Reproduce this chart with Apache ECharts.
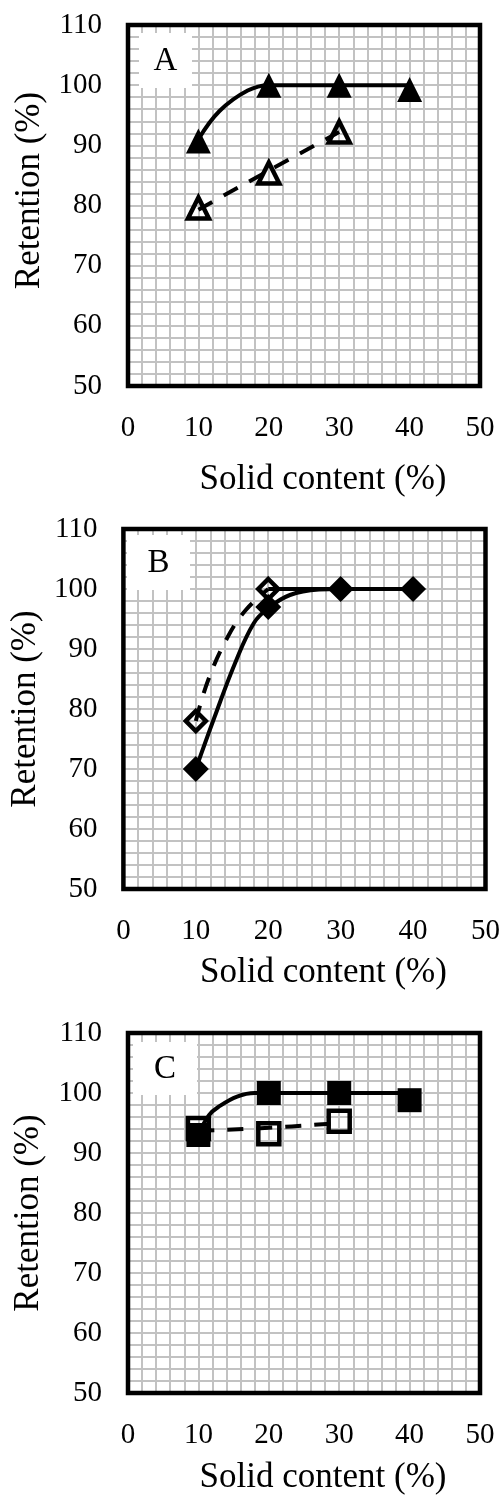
<!DOCTYPE html>
<html>
<head>
<meta charset="utf-8">
<script src="https://cdn.jsdelivr.net/npm/echarts@6/dist/echarts.min.js"></script>
<style>
  html, body { margin: 0; padding: 0; background: #ffffff; }
  #chart { width: 503px; height: 1499px; }
</style>
</head>
<body>
<div id="chart"></div>
<script>
// Axis ranges and tick spacing (shared by all three panels)
const xRange = [0, 50];
const yRange = [50, 110];
const majorStep = 10;
const minorSplits = 5;

const panelLabels = ['A', 'B', 'C'];
const xTitle = 'Solid content (%)';
const yTitle = 'Retention (%)';

// Panel A: measured points [solid content %, retention %]
const aFilledPts = [[10, 90.7], [20, 100], [30, 100], [40, 99.3]];
const aOpenPts   = [[10, 79.6], [20, 85.4], [30, 92.2]];
// Panel A: drawn trend curves
const aFilledCurve = [[10, 91], [13, 95.7], [17, 99.1], [20, 100], [30, 100], [40, 100]];
const aOpenCurve   = [[10, 79.3], [20, 85.8], [30, 92.2]];

// Panel B
const bFilledPts = [[10, 70], [20, 97], [30, 100], [40, 100]];
const bOpenPts   = [[10, 78], [20, 100]];
const bFilledCurve = [[10, 70], [12.6, 78.7], [15.4, 87.6], [18, 94.3], [20, 96.8], [23, 99], [27, 99.9], [30, 100], [40, 100]];
const bOpenCurve   = [[10, 78], [11.7, 84.8], [14.4, 92], [16.9, 96.5], [20, 100]];
const bOpenTail    = [[20, 100], [30, 100]];

// Panel C
const cFilledPts = [[10, 93], [20, 100], [30, 100], [40, 98.8]];
const cOpenPts   = [[10, 94.1], [20, 93.2], [30, 95.3]];
const cFilledCurve = [[10, 93], [11.5, 96.3], [13, 97.8], [15.5, 99.4], [18, 100], [20, 100], [30, 100], [40, 100]];
const cOpenCurve   = [[10, 93.7], [20, 94.2], [30, 95]];

const panels = [
  { filledPts: aFilledPts, openPts: aOpenPts, filledCurve: aFilledCurve, openCurve: aOpenCurve, solidExtra: null,
    symbol: 'triangle', fillSize: 25, openSize: 21 },
  { filledPts: bFilledPts, openPts: bOpenPts, filledCurve: bFilledCurve, openCurve: bOpenCurve, solidExtra: bOpenTail,
    symbol: 'diamond', fillSize: 26, openSize: 20 },
  { filledPts: cFilledPts, openPts: cOpenPts, filledCurve: cFilledCurve, openCurve: cOpenCurve, solidExtra: null,
    symbol: 'rect', fillSize: 24, openSize: 21 }
];

// Layout of the three stacked plot frames
const frames = [
  { left: 128, top: 25,   width: 352, height: 361, yGap: 79, yShift: 30, xGap: 76 },
  { left: 121, top: 529,  width: 366, height: 360, yGap: 74, yShift: 0,  xGap: 66 },
  { left: 128, top: 1033, width: 352, height: 360, yGap: 82, yShift: 0,  xGap: 67 }
];
const labelBoxes = [
  { x: 139, y: 33,   w: 53, h: 55 },
  { x: 127, y: 535,  w: 63, h: 55 },
  { x: 133, y: 1042, w: 64, h: 53 }
];

const serif = '"Liberation Serif", "Times New Roman", serif';
const gridGray = '#c2c2c2';
const lineW = 4;

const grid = [], xAxis = [], yAxis = [], series = [], graphic = [];

frames.forEach((f, i) => {
  grid.push({
    left: f.left, top: f.top, width: f.width, height: f.height,
    show: true, borderColor: '#000', borderWidth: 4.5, backgroundColor: 'transparent', z: 3
  });
  const gridLines = { show: true, lineStyle: { color: gridGray, width: 2 } };
  xAxis.push({
    type: 'value', gridIndex: i, min: xRange[0], max: xRange[1], interval: majorStep,
    axisLine: { show: false }, axisTick: { show: false },
    minorTick: { show: false, splitNumber: minorSplits },
    splitLine: gridLines, minorSplitLine: gridLines,
    axisLabel: { color: '#000', fontFamily: serif, fontSize: 29, margin: 28 },
    name: xTitle, nameLocation: 'middle', nameGap: f.xGap,
    nameTextStyle: { color: '#000', fontFamily: serif, fontSize: 35, padding: [0, 0, 0, 38] }
  });
  yAxis.push({
    type: 'value', gridIndex: i, min: yRange[0], max: yRange[1], interval: majorStep,
    axisLine: { show: false }, axisTick: { show: false },
    minorTick: { show: false, splitNumber: minorSplits },
    splitLine: gridLines, minorSplitLine: gridLines,
    axisLabel: { color: '#000', fontFamily: serif, fontSize: 29, margin: 26 },
    name: yTitle, nameLocation: 'middle', nameGap: f.yGap,
    nameTextStyle: { color: '#000', fontFamily: serif, fontSize: 35, padding: [0, 0, 0, f.yShift] }
  });

  const p = panels[i];
  series.push({
    type: 'line', xAxisIndex: i, yAxisIndex: i, data: p.filledCurve, smooth: 0.4,
    showSymbol: false, lineStyle: { color: '#000', width: lineW }, z: 2, silent: true
  });
  series.push({
    type: 'line', xAxisIndex: i, yAxisIndex: i, data: p.openCurve, smooth: 0.4,
    showSymbol: false, lineStyle: { color: '#000', width: lineW, type: [16, 13] }, z: 2, silent: true
  });
  if (p.solidExtra) {
    series.push({
      type: 'line', xAxisIndex: i, yAxisIndex: i, data: p.solidExtra,
      showSymbol: false, lineStyle: { color: '#000', width: lineW }, z: 2, silent: true
    });
  }
  series.push({
    type: 'scatter', xAxisIndex: i, yAxisIndex: i, data: p.filledPts,
    symbol: p.symbol, symbolSize: p.fillSize,
    itemStyle: { color: '#000', opacity: 1 }, z: 4, silent: true
  });
  series.push({
    type: 'scatter', xAxisIndex: i, yAxisIndex: i, data: p.openPts,
    symbol: p.symbol, symbolSize: p.openSize,
    itemStyle: { color: 'rgba(0,0,0,0)', borderColor: '#000', borderWidth: 4.5, opacity: 1 }, z: 5, silent: true
  });

  // White label box with the panel letter
  const b = labelBoxes[i];
  graphic.push({
    type: 'rect', z: 20, silent: true,
    shape: { x: b.x, y: b.y, width: b.w, height: b.h },
    style: { fill: '#ffffff', stroke: null }
  });
  graphic.push({
    type: 'text', z: 21, silent: true,
    x: b.x + b.w / 2, y: b.y + b.h / 2 + 1,
    style: {
      text: panelLabels[i], fill: '#000', fontSize: 33, fontFamily: serif,
      align: 'center', textAlign: 'center', verticalAlign: 'middle', textVerticalAlign: 'middle'
    }
  });
});

const chart = echarts.init(document.getElementById('chart'), null, { renderer: 'canvas' });
chart.setOption({
  animation: false,
  backgroundColor: '#fff',
  grid, xAxis, yAxis, series, graphic
});
</script>
</body>
</html>
